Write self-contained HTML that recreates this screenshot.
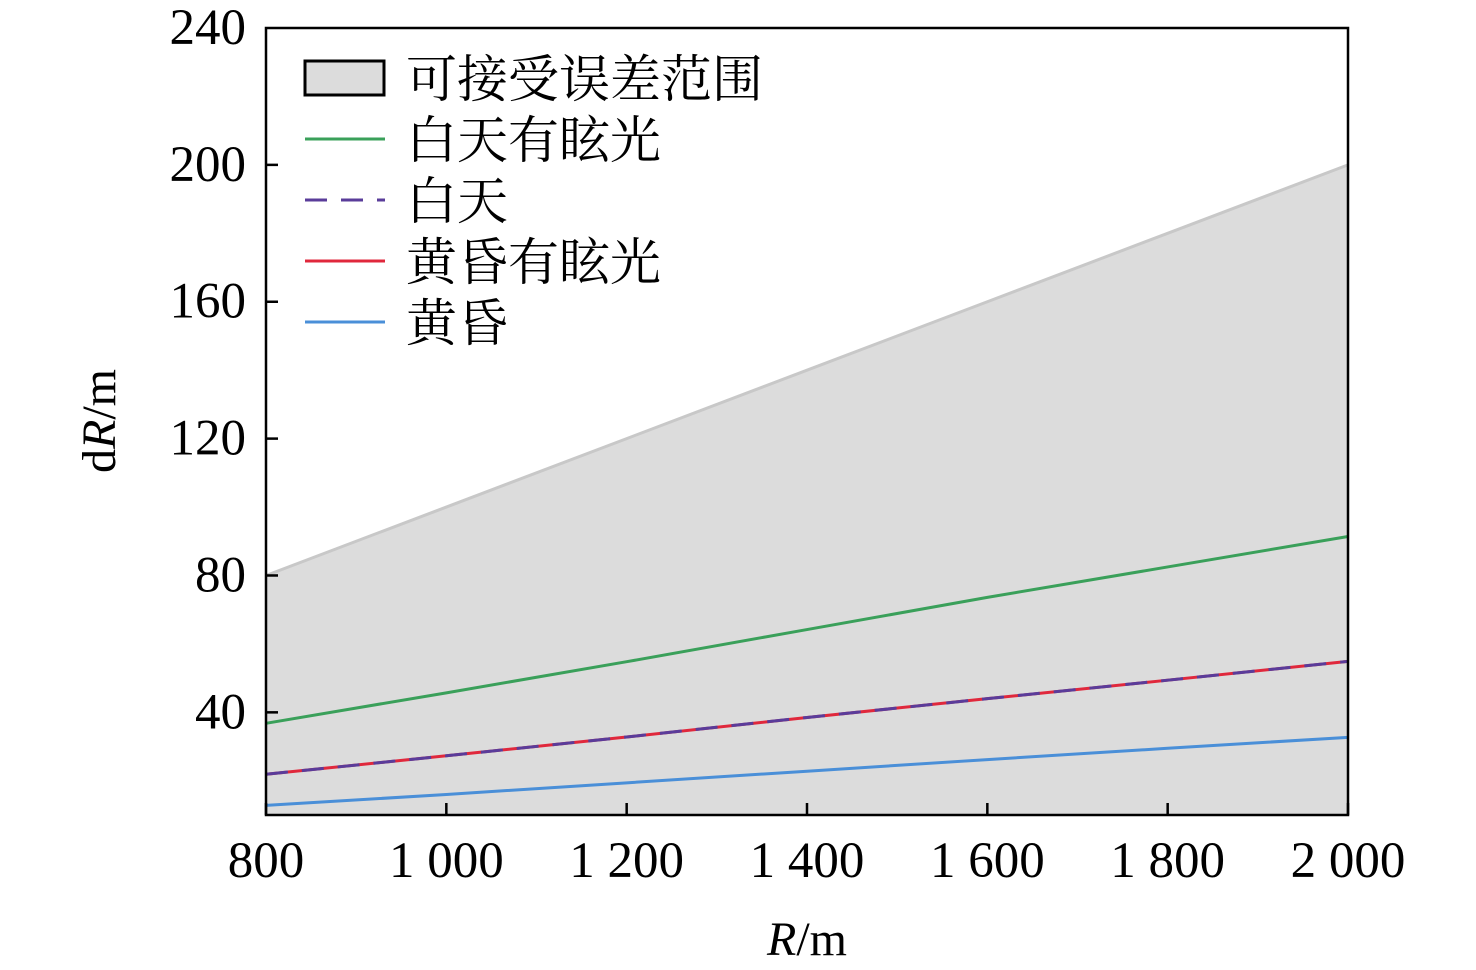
<!DOCTYPE html>
<html><head><meta charset="utf-8"><style>
html,body{margin:0;padding:0;background:#fff;}
svg{display:block;font-family:"Liberation Serif","Noto Serif CJK SC",serif;}
</style></head><body>
<svg id="chart" width="1476" height="970" xmlns="http://www.w3.org/2000/svg"></svg>
<script>
const xVals=[800,1000,1200,1400,1600,1800,2000];
const xTicks=[800,1000,1200,1400,1600,1800,2000];
const xTickLabels=["800","1 000","1 200","1 400","1 600","1 800","2 000"];
const yTicks=[40,80,120,160,200,240];
const bandUpper=[80,100,120,140,160,180,200];
const dayGlare=[36.8,45.7,54.8,64.2,73.6,82.5,91.4];
const day=[21.9,27.3,32.8,38.5,44.0,49.4,54.9];
const duskGlare=[21.9,27.3,32.8,38.5,44.0,49.4,54.9];
const dusk=[12.8,16.0,19.4,22.8,26.2,29.5,32.7];
const L=266,R=1348,T=28,B=815,xMin=800,xMax=2000,yMin=10,yMax=240;
const sx=v=>L+(v-xMin)/(xMax-xMin)*(R-L);
const sy=v=>B-(v-yMin)/(yMax-yMin)*(B-T);
const NS="http://www.w3.org/2000/svg",svg=document.getElementById('chart');
function mk(t,a,p){const e=document.createElementNS(NS,t);for(const k in a)e.setAttribute(k,a[k]);(p||svg).appendChild(e);return e;}
let d=`M${sx(xVals[0])},${B}`;xVals.forEach((x,i)=>d+=`L${sx(x)},${sy(bandUpper[i])}`);d+=`L${sx(xVals[xVals.length-1])},${B}Z`;
let band=mk('path',{d,fill:'#dcdcdc',stroke:'none'});


let bl=mk('path',{d:xVals.map((x,i)=>(i?'L':'M')+sx(x)+','+sy(bandUpper[i])).join(''),fill:'none',stroke:'#c8c8c8','stroke-width':3});


function line(arr,color,name,dash){const p=mk('path',{d:xVals.map((x,i)=>(i?'L':'M')+sx(x)+','+sy(arr[i])).join(''),fill:'none',stroke:color,'stroke-width':3});if(dash)p.setAttribute('stroke-dasharray',dash);

}
line(dayGlare,'#3aa05a','series-day-glare');
line(duskGlare,'#e0283c','series-dusk-glare');
line(day,'#5a3c9a','series-day','22,14');
line(dusk,'#4a8fd8','series-dusk');
let fr=mk('rect',{x:L,y:T,width:R-L,height:B-T,fill:'none',stroke:'#000','stroke-width':2.5});


xTicks.forEach((v,i)=>{mk('line',{x1:sx(v),x2:sx(v),y1:B,y2:B-12,stroke:'#000','stroke-width':2.5});
const t=mk('text',{x:sx(v),y:B+62,'text-anchor':'middle','font-size':51});t.textContent=xTickLabels[i];

});
yTicks.forEach(v=>{if(v<240)mk('line',{x1:L,x2:L+12,y1:sy(v),y2:sy(v),stroke:'#000','stroke-width':2.5});
const t=mk('text',{x:L-20,y:sy(v)+16,'text-anchor':'end','font-size':51});t.textContent=v;

});
let xt=mk('text',{x:807,y:955,'text-anchor':'middle','font-size':48});xt.innerHTML='<tspan font-style="italic">R</tspan>/m';


let yt=mk('text',{x:0,y:0,'text-anchor':'middle','font-size':48,transform:'translate(115,421) rotate(-90)'});yt.innerHTML='d<tspan font-style="italic">R</tspan>/m';


const legText=["可接受误差范围","白天有眩光","白天","黄昏有眩光","黄昏"];
const legColor=[null,'#3aa05a','#5a3c9a','#e0283c','#4a8fd8'];
legText.forEach((s,i)=>{const y=78+i*61;const g=mk('g',{});


if(i===0)mk('rect',{x:305,y:y-17,width:79,height:34,fill:'#dcdcdc',stroke:'#000','stroke-width':3},g);
else{const l=mk('line',{x1:305,x2:385,y1:y,y2:y,stroke:legColor[i],'stroke-width':3},g);if(i===2)l.setAttribute('stroke-dasharray','22,14');}
const t=mk('text',{x:406,y:y+19,'font-size':51,'font-family':'"Noto Serif CJK SC","Noto Sans CJK SC",serif'},g);t.textContent=s;});
</script>
</body></html>
